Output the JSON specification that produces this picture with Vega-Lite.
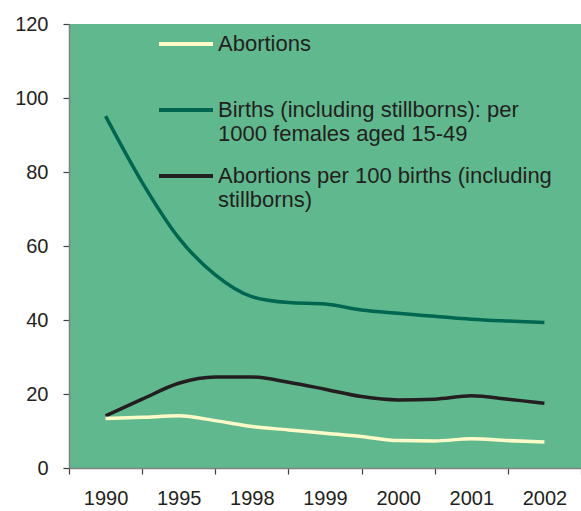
{
  "$schema": "https://vega.github.io/schema/vega-lite/v6.json",
  "width": 512,
  "height": 444,
  "autosize": {"type": "none"},
  "padding": {"left": 69, "top": 24, "right": 0, "bottom": 43},
  "background": "white",
  "config": {
    "view": {"fill": "#60B98E", "stroke": null},
    "font": "Liberation Sans",
    "axis": {"grid": false, "domainColor": "#808080", "domainWidth": 1.5, "tickColor": "#404040", "tickWidth": 1.2, "tickSize": 6, "labelColor": "#231F20", "labelFontSize": 20, "labelFont": "Liberation Sans", "title": null}
  },
  "data": {
    "values": [
      {"year": 1990, "series": "Births", "value": 95.1},
      {"year": 1991, "series": "Births", "value": 77.2},
      {"year": 1992, "series": "Births", "value": 62.2},
      {"year": 1993, "series": "Births", "value": 52.2},
      {"year": 1994, "series": "Births", "value": 46.3},
      {"year": 1995, "series": "Births", "value": 44.7},
      {"year": 1996, "series": "Births", "value": 44.3},
      {"year": 1997, "series": "Births", "value": 42.7},
      {"year": 1998, "series": "Births", "value": 41.8},
      {"year": 1999, "series": "Births", "value": 41.0},
      {"year": 2000, "series": "Births", "value": 40.2},
      {"year": 2001, "series": "Births", "value": 39.7},
      {"year": 2002, "series": "Births", "value": 39.3},
      {"year": 1990, "series": "Per100", "value": 14.1},
      {"year": 1991, "series": "Per100", "value": 18.6},
      {"year": 1992, "series": "Per100", "value": 22.9},
      {"year": 1993, "series": "Per100", "value": 24.6},
      {"year": 1994, "series": "Per100", "value": 24.6},
      {"year": 1995, "series": "Per100", "value": 23.2},
      {"year": 1996, "series": "Per100", "value": 21.3},
      {"year": 1997, "series": "Per100", "value": 19.3},
      {"year": 1998, "series": "Per100", "value": 18.4},
      {"year": 1999, "series": "Per100", "value": 18.6},
      {"year": 2000, "series": "Per100", "value": 19.5},
      {"year": 2001, "series": "Per100", "value": 18.6},
      {"year": 2002, "series": "Per100", "value": 17.5},
      {"year": 1990, "series": "Abortions", "value": 13.4},
      {"year": 1991, "series": "Abortions", "value": 13.7},
      {"year": 1992, "series": "Abortions", "value": 14.1},
      {"year": 1993, "series": "Abortions", "value": 12.8},
      {"year": 1994, "series": "Abortions", "value": 11.2},
      {"year": 1995, "series": "Abortions", "value": 10.3},
      {"year": 1996, "series": "Abortions", "value": 9.4},
      {"year": 1997, "series": "Abortions", "value": 8.5},
      {"year": 1998, "series": "Abortions", "value": 7.4},
      {"year": 1999, "series": "Abortions", "value": 7.3},
      {"year": 2000, "series": "Abortions", "value": 7.9},
      {"year": 2001, "series": "Abortions", "value": 7.4},
      {"year": 2002, "series": "Abortions", "value": 7.0}
    ]
  },
  "mark": {"type": "line", "strokeWidth": 3.5, "interpolate": "monotone"},
  "encoding": {
    "x": {
      "field": "year", "type": "quantitative",
      "scale": {"domain": [1989, 2003], "nice": false, "zero": false},
      "axis": {
        "values": [1989, 1990, 1991, 1992, 1993, 1994, 1995, 1996, 1997, 1998, 1999, 2000, 2001, 2002, 2003],
        "tickOpacity": {"expr": "datum.value % 2 == 1 ? 1 : 0"},
        "labelPadding": 14,
        "labelExpr": "datum.value == 1990 ? '1990' : datum.value == 1992 ? '1995' : datum.value == 1994 ? '1998' : datum.value == 1996 ? '1999' : datum.value == 1998 ? '2000' : datum.value == 2000 ? '2001' : datum.value == 2002 ? '2002' : ''",
        "labelOverlap": false,
        "labelFlush": false
      }
    },
    "y": {
      "field": "value", "type": "quantitative",
      "scale": {"domain": [0, 120], "nice": false},
      "axis": {"values": [0, 20, 40, 60, 80, 100, 120], "labelPadding": 15}
    },
    "color": {
      "field": "series", "type": "nominal",
      "scale": {"domain": ["Abortions", "Births", "Per100"], "range": ["#FFFAC8", "#00664F", "#231F20"]},
      "legend": {
        "orient": "none", "legendX": 88, "legendY": -9, "title": null, "padding": 0,
        "symbolType": "stroke", "symbolSize": 2916, "symbolStrokeWidth": 4,
        "labelFontSize": 22, "labelColor": "#231F20", "labelOffset": 3, "labelLimit": 400,
        "labelBaseline": "middle",
        "gridAlign": "all",
        "labelExpr": "datum.value == 'Abortions' ? 'Abortions' : datum.value == 'Births' ? ['Births (including stillborns): per', '1000 females aged 15-49'] : ['Abortions per 100 births (including', 'stillborns)']",
        "rowPadding": 2
      }
    }
  }
}
